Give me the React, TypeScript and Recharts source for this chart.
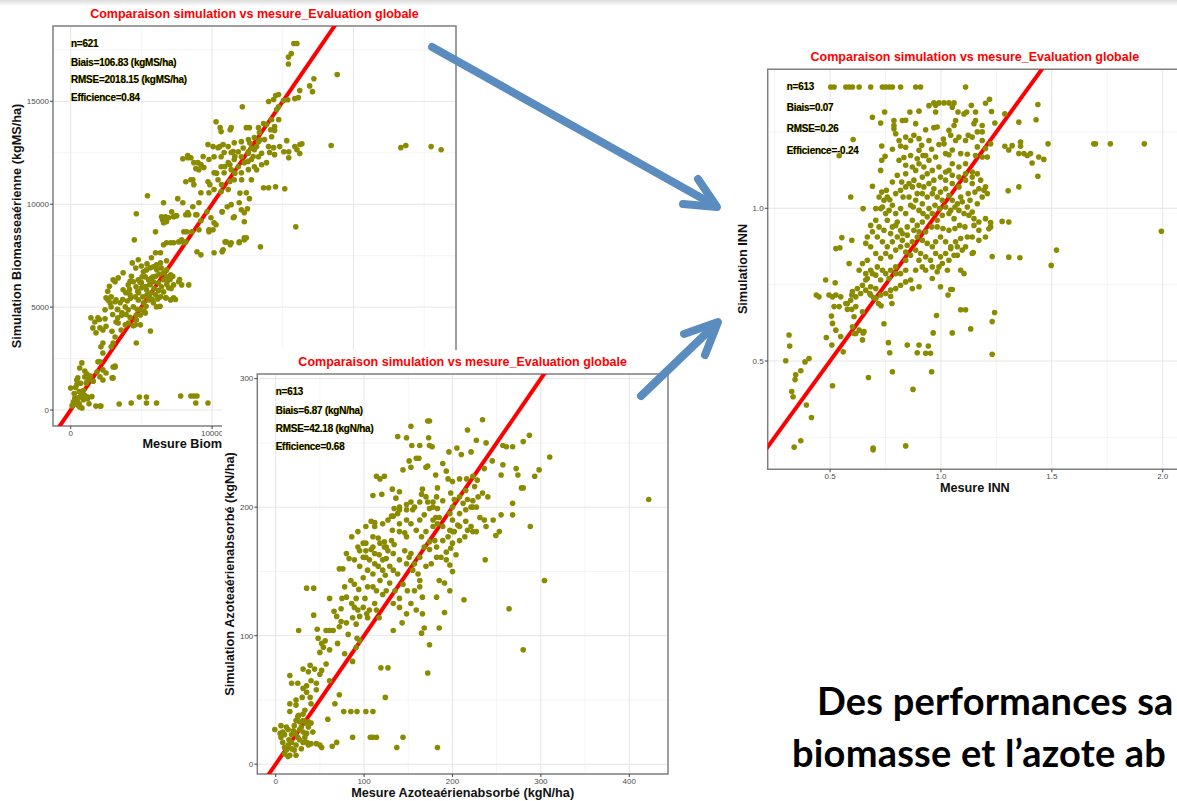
import { ScatterChart, Scatter, XAxis, YAxis, CartesianGrid, ReferenceLine, ReferenceArea } from "recharts"

type Pt = [number, number]

// Biomasse aérienne (kgMS/ha): [mesure, simulation]
const biomassePoints: Pt[] = [
  [0, 1070], [200, 400], [500, 250], [700, 150], [300, 600], [900, 500], [1000, 700], [600, 300], [1200, 550], [1500, 650],
  [1300, 300], [800, 100], [640, 2040], [500, 1560], [790, 2290], [430, 1460], [1000, 1610], [1140, 1360], [1210, 630], [860, 630],
  [290, 490], [140, 240], [640, 150], [1930, 2340], [2280, 1950], [1860, 1850], [3000, 2090], [2930, 1560], [3140, 2090],
  [100, 200], [350, 350], [450, 450], [550, 600], [750, 700], [250, 800], [600, 900], [900, 950], [1100, 1300], [1300, 1500],
  [1400, 1650], [1600, 1400], [1000, 1900], [450, 1250], [1150, 1750], [700, 1300], [350, 1100],
  [2070, 190], [1780, 190], [2140, 190], [3430, 290], [4280, 340], [4860, 630], [5360, 630], [5360, 340], [6070, 340],
  [7780, 680], [8500, 680], [8710, 680], [8930, 680], [8850, 340], [9710, 340],
  [4640, 9540], [4500, 8270], [4360, 7150], [4780, 7300], [3710, 6670], [3360, 6420], [3000, 6330], [3140, 6230],
  [2500, 5450], [2640, 5350], [2860, 5500], [3140, 5260], [2790, 5210], [2430, 4870], [2860, 5010], [3210, 5350],
  [1430, 4480], [1930, 4480], [1710, 4280], [2430, 4430], [1570, 3990], [2070, 3990], [1790, 3750], [2280, 3890],
  [2280, 3260], [2140, 3070], [2280, 2770], [3140, 3550], [3000, 3260], [2860, 3070], [2070, 2340],
  [2500, 1800], [2280, 1460], [3000, 1560], [3140, 2140], [2070, 1610], [4640, 3260], [5640, 3840],
  [3570, 3890], [3860, 4140], [3360, 4230], [3210, 4280], [4070, 4230], [4430, 4090], [4640, 4380], [4930, 4620], [5280, 4720],
  [3710, 5840], [4070, 6080], [4430, 6230], [4780, 6330], [5140, 6720], [5360, 6810], [5640, 6910], [5850, 6960], [6070, 7060],
  [6350, 7150], [5280, 6470], [5500, 6330], [5850, 6230], [6210, 6180], [6570, 6330], [6780, 6470], [7070, 6570], [5000, 5940],
  [5360, 5840], [5640, 5690], [6000, 5600], [6350, 5500], [6710, 5450], [7070, 5350], [7280, 5450], [4570, 5500], [4780, 5350],
  [5140, 5210], [4430, 5010], [4070, 4870], [3860, 5010], [3500, 5210], [5500, 5350], [5850, 5210], [6070, 5010], [6570, 5740],
  [6930, 5940], [7280, 6080], [7640, 6230], [7850, 6080], [8350, 6080], [6570, 6670], [6780, 6810], [5710, 7400], [6000, 7640],
  [6350, 7640], [6780, 7250], [4640, 4620], [4930, 4140], [4570, 4140],
  [5000, 6200], [5300, 6000], [5600, 6100], [5900, 5900], [6200, 5800], [4800, 5700], [5100, 5500], [5400, 5600], [5700, 6400],
  [6000, 6500], [6300, 6600], [4200, 5600], [4000, 5300], [3900, 5700], [4300, 6500], [4600, 6900], [5000, 7000], [5400, 7100],
  [6400, 6900], [6800, 6100], [7100, 5900], [4700, 4900], [5200, 4800], [3600, 4600], [3300, 4900], [4200, 4500],
  [4200, 6260], [4910, 6210], [5050, 6470], [4620, 5990], [5240, 5990], [5620, 6100], [5810, 6470], [6090, 6820], [6230, 6580],
  [5570, 5530], [5760, 5370], [6160, 5400], [6420, 5990], [6820, 6260], [4230, 5430], [3680, 5370], [3330, 4880], [3630, 4720],
  [2970, 4640], [4980, 4880], [5330, 5040], [6320, 5040], [6750, 5450], [7410, 5370], [7030, 6340], [7220, 6500], [7700, 6340],
  [2740, 6010], [2620, 5770], [2030, 4400], [2500, 4070], [2920, 3830], [3330, 4480], [3920, 4640], [4160, 5850], [4740, 5770],
  [6570, 8030], [6780, 8130], [7070, 8130], [7280, 8130], [7640, 8170], [7850, 8270], [8000, 8130], [8140, 8170], [6000, 8660],
  [8930, 7690], [9210, 7540], [10140, 7640], [10710, 7690], [11000, 8170], [11350, 8130], [11920, 8130], [12280, 8270], [12420, 8370],
  [6570, 9100], [6780, 9150], [6430, 9390], [6930, 9340], [7280, 9390], [7500, 9440], [8140, 9490], [8350, 9490], [8930, 9490],
  [8570, 8660], [8210, 8660], [8000, 8660], [9780, 8660], [10280, 9000], [9920, 9340], [9640, 9630], [10710, 9630], [11070, 9880],
  [11570, 9390], [12280, 9590], [12500, 9780], [5430, 10410], [6570, 10070], [7570, 10270], [7930, 10070], [7140, 9630],
  [6710, 9390], [6500, 9240], [6850, 9340], [7430, 9440], [8280, 9590],
  [8140, 11090], [8640, 11190], [8710, 10950], [9210, 10560], [9070, 10070], [8640, 9880], [8850, 9490],
  [7930, 12210], [8280, 12360], [8500, 12260], [9000, 12020], [9210, 11920], [9420, 11780], [9070, 11680], [8850, 11730],
  [9710, 12900], [10070, 12800], [10420, 12750], [10780, 12900], [11140, 12800], [11570, 12990], [12070, 13040], [12570, 13140],
  [12990, 13240], [13280, 13040], [13710, 13140], [13990, 12800], [14350, 12750], [14780, 12800], [15070, 12550], [14210, 13280],
  [14420, 13580], [13350, 13480], [12070, 12310], [11570, 12170], [11140, 12020], [10640, 11820], [10140, 11530], [9710, 11090],
  [10640, 12310], [10140, 12310], [10850, 12510], [11350, 12510], [11850, 12550], [12570, 12550], [12990, 12650], [13280, 12310],
  [12780, 12170], [12280, 12020], [11850, 11820], [11350, 11680], [10850, 11530], [10420, 11190], [12070, 11530], [12570, 11680],
  [12990, 11820], [13500, 11920], [12780, 11190], [11570, 11190], [11140, 10710], [10640, 10610], [10140, 10710], [9780, 10560],
  [12420, 10560], [12640, 10270], [11920, 10070], [11350, 9980], [10710, 9630], [12070, 9730], [12280, 9150], [11500, 9340],
  [10140, 9100], [10070, 8760], [9070, 8760], [9210, 9200], [9780, 8760], [13850, 12020], [14070, 12510], [14420, 12410],
  [13850, 13870], [14420, 13770], [14710, 14110], [14210, 14110], [10640, 13530], [8280, 12260], [8710, 12020], [9210, 11920],
  [9780, 12170], [8500, 11190],
  [11610, 12320], [11260, 11920], [12550, 12480], [12910, 12320], [12550, 12080], [10900, 11830], [10320, 11510], [11610, 11510],
  [12090, 11190], [11260, 11110], [10670, 10950], [9840, 10950], [10550, 12800], [11490, 12560], [12670, 12970], [12200, 12730],
  [12790, 12730], [13380, 13130], [13150, 12800], [13500, 12480], [11970, 10540], [13150, 11670], [9370, 12320],
  [15780, 17810], [16000, 17810], [15600, 17320], [15400, 17150], [15400, 16810], [18850, 16300], [17200, 16100], [16900, 15750],
  [17100, 15470], [16200, 15520], [16100, 15180], [15850, 15130], [15350, 15080], [15050, 15040], [14700, 15330], [14500, 15280],
  [14000, 14990], [14350, 15090], [14700, 14740], [14570, 14600], [12140, 14740], [10280, 14010], [10570, 13720], [11350, 13720],
  [11280, 13620], [12420, 13720], [12640, 13720], [13280, 13720], [13640, 13920], [14140, 13620],
  [15280, 13090], [15850, 12800], [16210, 12900], [16350, 12940], [16000, 12650], [15420, 12550], [15420, 12260], [16200, 12460],
  [18420, 12850], [23350, 12750], [23700, 12850], [25490, 12800], [26200, 12650], [15920, 8900], [15140, 10750], [14490, 10850],
  [14000, 10800], [13640, 10800], [13420, 7930], [12280, 8370], [11920, 8170], [11280, 8030], [10920, 8170], [10780, 7790],
]

// Azote aérien absorbé (kgN/ha): [mesure, simulation]
const azotePoints: Pt[] = [
  [234, 268], [172, 267], [174, 267], [153, 263], [138, 255], [148, 254], [173, 254], [154, 248], [163, 248], [174, 248],
  [177, 247], [227, 252], [238, 250], [217, 260], [205, 246], [196, 243], [189, 234], [210, 241], [221, 243], [159, 238],
  [162, 238], [151, 236], [153, 231], [144, 229], [172, 232], [170, 231], [181, 225], [195, 222], [208, 222], [216, 222],
  [223, 224], [228, 221], [236, 230], [245, 236], [257, 248], [261, 247], [268, 247], [280, 251], [287, 256], [293, 224],
  [298, 229], [310, 239], [272, 230], [274, 225], [278, 215], [280, 215], [268, 203], [268, 194], [288, 185], [304, 143],
  [264, 121], [280, 89], [237, 159], [249, 178], [253, 181], [238, 185], [246, 190], [255, 194], [257, 233], [255, 225], [422, 206],
  [213, 128], [191, 118], [182, 130], [185, 106], [183, 13], [172, 71], [174, 93], [165, 102], [168, 106], [143, 110],
  [133, 104], [127, 75], [119, 75], [124, 52], [137, 13], [144, 21], [110, 21], [114, 21], [107, 21], [87, 21],
  [77, 41], [85, 41], [92, 41], [102, 41], [110, 41], [52, 13], [64, 14], [69, 17], [59, 35], [67, 47], [72, 54],
  [-1, 27], [6, 21], [8, 17], [10, 13], [12, 11], [14, 15], [15, 19], [18, 23], [20, 26], [21, 30], [23, 34], [25, 37],
  [27, 33], [29, 29], [31, 25], [33, 21], [35, 17], [37, 15], [38, 16], [27, 19], [23, 15], [18, 12], [10, 8], [14, 6],
  [21, 11], [29, 12], [31, 34], [26, 38], [35, 32], [40, 32], [42, 25], [40, 16], [50, 15], [46, 16], [8, 25], [12, 29],
  [6, 30], [16, 7], [23, 7], [5, 24], [31, 39], [33, 42], [37, 33], [16, 41], [23, 46], [16, 47], [23, 50], [30, 52],
  [39, 52], [31, 59], [35, 61], [40, 65], [46, 63], [50, 70], [44, 74], [37, 72], [39, 77], [31, 74], [16, 69], [18, 63],
  [25, 63], [35, 56], [26, 104],
  [14, 27], [10, 23], [18, 17], [25, 21], [31, 17], [22, 24], [27, 27], [35, 24], [37, 29], [33, 33],
  [35, 137], [43, 137], [43, 116], [47, 105], [48, 98], [52, 94], [50, 87], [54, 91], [56, 96], [61, 104], [65, 104], [57, 104],
  [61, 129], [75, 129], [66, 119], [69, 115], [74, 121], [74, 111], [78, 138], [80, 164], [83, 160], [72, 152], [76, 152],
  [82, 101], [78, 86], [87, 80], [91, 91], [95, 96], [91, 109], [87, 114], [92, 98], [85, 143], [89, 140], [94, 136],
  [91, 129], [89, 122], [93, 120], [99, 172], [102, 166], [95, 166], [93, 169], [102, 185], [108, 189], [102, 161], [106, 159],
  [99, 145], [104, 138], [110, 138], [114, 135], [101, 129], [103, 117], [104, 114], [110, 177], [116, 176], [112, 164],
  [117, 163], [121, 159], [116, 154], [121, 151], [124, 147], [110, 148], [114, 120], [117, 114], [121, 132], [123, 169],
  [127, 166], [131, 174], [134, 171], [131, 193], [134, 199], [140, 200], [138, 195], [140, 181], [146, 180], [148, 177],
  [132, 182], [125, 160], [133, 151], [138, 148], [129, 141], [135, 135], [140, 129], [144, 140], [149, 135], [146, 166],
  [151, 161], [157, 156], [155, 151], [161, 148], [163, 143], [157, 135], [163, 138], [166, 130], [170, 154], [176, 156],
  [182, 161], [168, 169], [174, 173], [180, 174], [170, 181], [178, 185], [183, 187], [163, 190], [168, 194], [174, 199],
  [155, 198], [148, 202], [153, 204], [165, 210], [170, 208], [178, 204], [183, 199], [166, 214], [136, 207], [140, 212],
  [132, 214], [123, 173], [110, 209], [112, 188], [120, 210],
  [189, 174], [195, 177], [200, 181], [206, 186], [193, 165], [198, 168], [204, 163], [197, 155], [200, 150], [185, 143],
  [191, 141], [197, 135], [202, 181], [208, 185], [215, 189], [221, 185], [227, 181], [212, 203], [217, 206], [223, 200],
  [229, 208], [200, 200], [197, 195], [215, 213], [225, 216], [234, 211], [240, 208], [231, 192], [236, 190], [223, 181],
  [200, 190], [185, 192], [181, 192], [178, 190], [208, 208], [198, 211], [202, 206], [200, 220], [183, 215], [193, 228],
  [114, 224], [118, 222], [123, 224], [110, 169], [129, 154],
  [86, 177], [93, 181], [89, 159], [95, 154], [104, 151], [112, 156], [118, 143], [125, 135], [133, 125], [140, 122],
  [148, 117], [153, 125], [159, 120], [166, 117], [140, 159], [148, 156], [153, 164], [163, 161], [133, 164], [125, 169],
  [118, 172], [112, 185], [121, 187], [127, 190], [148, 190], [153, 187], [159, 182], [165, 177], [174, 167], [182, 169],
  [187, 161], [193, 159], [200, 172], [208, 174], [214, 177], [217, 182], [197, 182], [189, 185], [208, 195], [215, 198],
  [221, 200], [227, 200], [223, 205], [189, 205], [182, 208], [178, 200], [172, 204], [163, 204], [157, 200], [148, 198],
  [140, 198], [133, 193], [140, 187], [108, 167], [102, 172], [99, 161], [80, 130], [86, 125], [99, 122], [106, 120],
  [112, 125], [95, 115], [80, 110], [72, 107], [70, 94], [61, 89], [57, 78], [52, 73], [61, 65], [46, 58], [40, 47],
]

// INN: [mesure, simulation]
const innPoints: Pt[] = [
  [0.503, 1.397], [0.518, 1.397], [0.571, 1.397], [0.586, 1.397], [0.601, 1.397], [0.631, 1.397], [0.683, 1.397], [0.736, 1.397],
  [0.751, 1.397], [0.766, 1.397], [0.781, 1.397], [0.818, 1.397], [0.886, 1.397], [0.908, 1.397], [1.111, 1.397],
  [0.968, 1.345], [0.991, 1.345], [1.014, 1.345], [1.036, 1.345], [1.059, 1.345], [0.946, 1.336], [0.691, 1.298], [0.746, 1.315],
  [0.728, 1.279], [0.788, 1.287], [0.788, 1.271], [0.788, 1.26], [0.796, 1.244], [0.826, 1.287], [0.86, 1.315], [0.901, 1.318],
  [0.976, 1.315], [1.077, 1.315], [1.116, 1.315], [1.156, 1.315], [1.137, 1.337], [1.201, 1.344], [1.219, 1.357], [1.228, 1.317],
  [1.288, 1.309], [1.351, 1.282], [1.429, 1.29], [1.437, 1.34], [1.243, 1.279], [1.156, 1.287], [1.066, 1.287], [1.059, 1.271],
  [0.841, 1.233], [0.878, 1.239], [0.811, 1.222], [0.931, 1.257], [0.968, 1.264], [1.011, 1.227], [1.044, 1.239], [1.081, 1.233],
  [1.123, 1.239], [1.164, 1.25], [1.186, 1.25], [0.604, 1.225], [0.733, 1.204], [0.781, 1.193], [0.818, 1.204], [0.748, 1.17],
  [0.833, 1.166], [0.863, 1.173], [0.913, 1.206], [0.958, 1.193], [0.991, 1.209], [1.036, 1.175], [1.051, 1.191], [1.119, 1.177],
  [1.164, 1.201], [1.201, 1.196], [1.209, 1.168], [1.224, 1.211], [1.288, 1.203], [1.306, 1.191], [1.321, 1.205], [1.359, 1.217],
  [1.359, 1.203], [1.351, 1.179], [1.374, 1.179], [1.389, 1.173], [1.404, 1.179], [1.441, 1.168], [1.464, 1.16], [1.483, 1.211],
  [1.411, 1.148], [1.437, 1.105], [1.689, 1.211], [1.697, 1.211], [1.764, 1.211], [1.917, 1.211], [1.351, 1.07], [1.303, 1.057],
  [0.541, 1.172], [0.593, 1.037], [0.649, 0.999], [0.733, 1.157], [0.728, 1.124], [0.691, 1.072],
  [0.983, 1.266], [1.036, 1.255], [1.066, 1.222], [1.111, 1.222], [1.141, 1.233], [1.186, 1.222], [1.014, 1.211], [0.946, 1.222],
  [0.901, 1.228], [0.863, 1.222], [0.841, 1.2], [0.901, 1.19], [0.931, 1.173], [1.021, 1.179], [1.089, 1.179], [1.156, 1.173],
  [1.186, 1.168], [0.841, 1.288], [0.886, 1.277], [0.976, 1.337], [1.051, 1.331], [1.104, 1.309], [1.149, 1.277], [1.186, 1.271],
  [0.721, 1.037], [0.743, 1.026], [0.758, 1.037], [0.736, 1.004], [0.766, 0.993], [0.781, 1.01], [0.796, 0.983], [0.818, 0.999],
  [0.841, 0.983], [0.863, 1.01], [0.886, 1.026], [0.916, 1.015], [0.938, 1.037], [0.961, 1.048], [0.983, 1.037], [1.006, 1.026],
  [1.036, 1.042], [1.051, 1.026], [1.074, 1.015], [1.096, 1.021], [1.119, 1.004], [1.141, 0.988], [1.164, 1.015], [1.186, 1.037],
  [1.209, 1.048], [1.194, 1.059], [1.171, 1.064], [1.141, 1.081], [1.111, 1.092], [1.081, 1.07], [1.051, 1.081], [1.021, 1.092],
  [0.998, 1.102], [0.968, 1.092], [0.946, 1.081], [0.923, 1.07], [0.901, 1.075], [0.871, 1.07], [0.841, 1.07], [0.818, 1.059],
  [0.796, 1.048], [0.781, 1.086], [0.803, 1.108], [0.841, 1.113], [0.886, 1.124], [0.916, 1.102], [0.938, 1.113], [0.961, 1.124],
  [0.991, 1.135], [1.021, 1.119], [1.051, 1.108], [1.081, 1.102], [1.111, 1.113], [1.141, 1.119], [1.164, 1.113], [0.901, 1.146],
  [0.871, 1.135], [0.841, 1.141], [0.811, 1.157], [0.946, 1.157], [0.976, 1.168], [0.751, 0.983], [0.728, 0.999], [0.706, 0.999],
  [0.758, 0.961], [0.781, 0.939], [0.803, 0.955], [0.826, 0.917], [0.848, 0.939], [0.871, 0.961], [0.893, 0.944], [0.916, 0.955],
  [0.938, 0.972], [0.961, 0.983], [0.983, 0.961], [1.006, 0.977], [1.036, 0.983], [1.059, 0.966], [1.081, 0.993], [1.104, 0.983],
  [1.126, 0.977], [1.149, 0.966], [1.171, 0.955], [1.201, 0.966], [1.119, 0.906], [1.089, 0.901], [1.066, 0.89], [1.044, 0.874],
  [1.021, 0.89], [0.998, 0.906], [0.976, 0.89], [0.961, 0.874], [0.938, 0.885], [0.916, 0.895], [0.893, 0.906], [0.871, 0.89],
  [0.848, 0.879], [0.826, 0.895], [0.803, 0.906], [0.781, 0.89], [0.758, 0.874], [0.736, 0.89], [0.713, 0.906], [0.691, 0.923],
  [0.668, 0.906], [0.661, 0.885], [0.683, 0.874], [0.706, 0.852], [0.728, 0.836], [0.751, 0.852], [0.773, 0.841], [0.796, 0.863],
  [0.818, 0.874], [0.841, 0.857], [0.863, 0.846], [0.886, 0.863], [0.908, 0.852], [0.931, 0.841], [0.953, 0.83], [0.976, 0.852],
  [0.998, 0.841], [1.021, 0.852], [1.044, 0.868], [1.074, 0.874], [1.096, 0.863], [1.141, 0.852], [1.171, 0.895], [1.201, 0.906],
  [1.224, 0.939], [0.668, 0.83], [0.646, 0.819], [0.631, 0.797], [0.661, 0.786], [0.683, 0.797], [0.706, 0.781], [0.728, 0.765],
  [0.751, 0.786], [0.773, 0.797], [0.796, 0.808], [0.818, 0.786], [0.841, 0.797], [0.863, 0.765], [0.886, 0.797], [0.901, 0.743],
  [0.871, 0.737], [0.841, 0.759], [0.818, 0.748], [0.796, 0.737], [0.773, 0.732], [0.751, 0.721], [0.728, 0.716], [0.706, 0.737],
  [0.683, 0.743], [0.661, 0.732], [0.616, 0.71], [0.593, 0.699], [0.571, 0.688], [0.548, 0.71], [0.526, 0.716], [0.983, 0.792],
  [1.006, 0.819], [1.029, 0.797], [0.931, 0.797], [0.961, 0.77], [1.074, 0.846], [1.089, 0.797], [1.104, 0.786],
  [0.733, 1.053], [0.754, 1.059], [0.769, 1.028], [0.829, 1.037], [0.856, 1.037], [0.875, 1.004], [0.901, 0.993], [0.919, 0.983],
  [0.946, 0.999], [0.973, 1.01], [0.994, 0.999], [1.021, 1.004], [1.044, 0.993], [1.063, 1.004], [1.089, 1.037], [1.123, 1.048],
  [1.153, 1.053], [1.131, 1.026], [0.958, 0.939], [0.983, 0.939], [1.009, 0.934], [1.036, 0.928], [1.063, 0.934], [1.084, 0.944],
  [1.108, 0.939], [0.931, 0.923], [0.901, 0.923], [0.878, 0.928], [0.848, 0.912], [0.818, 0.928], [0.796, 0.944], [0.773, 0.917],
  [0.743, 0.928], [0.721, 0.939], [0.706, 0.961], [0.683, 0.944], [0.878, 1.092], [0.856, 1.081], [0.823, 1.086], [0.923, 1.135],
  [0.893, 1.162], [0.919, 1.173], [1.051, 1.146], [1.081, 1.135], [1.111, 1.146], [1.036, 1.124], [1.141, 1.102], [1.179, 1.092],
  [1.201, 1.07], [1.021, 1.064], [0.998, 1.053], [0.968, 1.064], [0.916, 1.048], [0.893, 1.048], [1.149, 0.944], [1.171, 0.928],
  [1.141, 0.906], [1.111, 0.874], [1.059, 0.846], [1.036, 0.83], [0.991, 0.808], [0.961, 0.808], [0.916, 0.808], [0.901, 0.83],
  [0.841, 0.83], [0.796, 0.786], [0.766, 0.77], [0.736, 0.797], [0.713, 0.808], [0.691, 0.786], [0.668, 0.77], [0.683, 0.716],
  [0.706, 0.705], [0.646, 0.748], [0.623, 0.737], [0.601, 0.727], [0.578, 0.688],
  [0.526, 0.601], [0.548, 0.58], [0.511, 0.623], [0.598, 0.669], [0.608, 0.645], [0.616, 0.59], [0.631, 0.601], [0.646, 0.569],
  [0.653, 0.596], [0.601, 0.612],
  [0.315, 0.585], [0.318, 0.549], [0.3, 0.501], [0.345, 0.455], [0.342, 0.439], [0.368, 0.468], [0.387, 0.497], [0.405, 0.508],
  [0.327, 0.4], [0.333, 0.383], [0.393, 0.356], [0.416, 0.315], [0.338, 0.218], [0.368, 0.239], [0.694, 0.209], [0.694, 0.215],
  [0.841, 0.222], [0.874, 0.407], [0.781, 0.465], [0.673, 0.446], [0.511, 0.419], [0.508, 0.552], [0.483, 0.577], [0.559, 0.53],
  [0.608, 0.59], [0.649, 0.592], [0.743, 0.622], [0.763, 0.56], [0.769, 0.527], [0.848, 0.552], [0.893, 0.527], [0.901, 0.552],
  [0.931, 0.525], [0.943, 0.549], [0.953, 0.525], [0.958, 0.465], [0.965, 0.592], [0.98, 0.649], [1.051, 0.592], [1.134, 0.605],
  [1.231, 0.522], [1.231, 0.629], [1.242, 0.659], [1.089, 0.668], [1.111, 0.668], [1.032, 0.716], [1.051, 0.734], [1.044, 0.734],
  [0.998, 0.743], [1.231, 0.842], [1.306, 0.84], [1.356, 0.838], [1.146, 0.855], [1.497, 0.813], [1.521, 0.863], [1.994, 0.925],
  [1.276, 0.957], [1.306, 0.955], [1.216, 0.933], [1.224, 0.953], [0.495, 0.716], [0.511, 0.71], [0.48, 0.765], [0.438, 0.716],
  [0.45, 0.71], [0.518, 0.678], [0.541, 0.678], [0.523, 0.756], [0.553, 0.904], [0.526, 0.868], [0.544, 0.871], [0.598, 0.895],
  [0.586, 0.819], [0.578, 0.669], [0.616, 0.678], [0.506, 0.647], [0.646, 0.661], [0.679, 0.721], [0.695, 0.708], [0.718, 0.688],
  [0.779, 0.688], [0.773, 0.712], [0.73, 0.681], [0.661, 0.765], [0.638, 0.721], [0.598, 0.716],
]

const biomasseStats = ["n=621", "Biais=106.83 (kgMS/ha)", "RMSE=2018.15 (kgMS/ha)", "Efficience=0.84"]
const azoteStats = ["n=613", "Biais=6.87 (kgN/ha)", "RMSE=42.18 (kgN/ha)", "Efficience=0.68"]
const innStats = ["n=613", "Biais=0.07", "RMSE=0.26", "Efficience=-0.24"]

// the 20000 label sits under the nitrogen panel, so only its grid line is drawn
const biomasseXTicks = [0, 10000]
const biomasseXGrid = [0, 10000, 20000]
const biomasseYTicks = [0, 5000, 10000, 15000]
const biomasseXMinor = [5000, 15000, 25000]
const biomasseYMinor = [2500, 7500, 12500, 17500]
const azoteXTicks = [0, 100, 200, 300, 400]
const azoteYTicks = [0, 100, 200, 300]
const azoteXMinor = [50, 150, 250, 350]
const azoteYMinor = [50, 150, 250]
const innXTicks = [0.5, 1.0, 1.5, 2.0]
const innYTicks = [0.5, 1.0]
const innXMinor = [0.25, 0.75, 1.25, 1.75]
const innYMinor = [0.25, 0.75, 1.25]

const TITLE = "Comparaison simulation vs mesure_Evaluation globale"
const POINT = "#8b8b00"
const FONT = "'Liberation Sans', Arial, sans-serif"

interface PanelProps {
  left: number
  top: number
  width: number
  height: number
  margin: { top: number; right: number; bottom: number; left: number }
  yAxisWidth: number
  xAxisHeight: number
  xDomain: [number, number]
  yDomain: [number, number]
  xTicks: number[]
  xGrid?: number[]
  yTicks: number[]
  xMinor: number[]
  yMinor: number[]
  points: Pt[]
  stats: string[]
  statsX: number
  statsY: number[]
  titleY: number
  xLabel: string
  yLabel: string
  xLabelY: number
  xLabelClip?: number
  yLabelX: number
  decimals?: number
  background?: boolean
}

const Dot = (props: any) => <circle cx={props.cx} cy={props.cy} r={2.8} fill={POINT} />

function Panel(p: PanelProps) {
  const data = p.points.map(([x, y]) => ({ x, y }))
  const plotLeft = p.margin.left + p.yAxisWidth
  const plotRight = p.width - p.margin.right
  const plotTop = p.margin.top
  const plotBottom = p.height - p.margin.bottom - p.xAxisHeight
  const cx = (plotLeft + plotRight) / 2
  const cy = (plotTop + plotBottom) / 2
  const fmt = (v: number) => (p.decimals ? v.toFixed(p.decimals) : String(v))
  const lo = Math.min(p.xDomain[0], p.yDomain[0])
  const hi = Math.max(p.xDomain[1], p.yDomain[1])
  const tickStyle = { fontSize: 8, fill: "#4d4d4d", fontFamily: FONT }
  const labelStyle = {
    whiteSpace: "nowrap" as const,
    color: "#111",
    fontWeight: 700,
    fontSize: 12.7,
    fontFamily: FONT,
  }

  return (
    <div
      style={{
        position: "absolute",
        left: p.left,
        top: p.top,
        width: p.width,
        height: p.height,
        background: p.background ? "#fff" : "transparent",
      }}
    >
      <ScatterChart width={p.width} height={p.height} margin={p.margin}>
        <CartesianGrid stroke="#f3f3f3" strokeWidth={0.8} verticalValues={p.xMinor} horizontalValues={p.yMinor} />
        <CartesianGrid
          stroke="#e6e6e6"
          strokeWidth={1}
          verticalValues={p.xGrid ?? p.xTicks}
          horizontalValues={p.yTicks}
        />
        <XAxis
          type="number"
          dataKey="x"
          domain={p.xDomain}
          allowDataOverflow
          ticks={p.xTicks}
          tickFormatter={fmt}
          height={p.xAxisHeight}
          axisLine={false}
          tickLine={{ stroke: "#444" }}
          tickSize={3}
          tickMargin={1}
          tick={tickStyle}
          interval={0}
        />
        <YAxis
          type="number"
          dataKey="y"
          domain={p.yDomain}
          allowDataOverflow
          ticks={p.yTicks}
          tickFormatter={fmt}
          width={p.yAxisWidth}
          axisLine={false}
          tickLine={{ stroke: "#444" }}
          tickSize={3}
          tickMargin={1}
          tick={tickStyle}
          interval={0}
        />
        <Scatter data={data} shape={Dot} isAnimationActive={false} />
        <ReferenceLine
          segment={[{ x: lo, y: lo }, { x: hi, y: hi }]}
          stroke="#ff0000"
          strokeWidth={4}
          ifOverflow="hidden"
        />
        <ReferenceArea
          x1={p.xDomain[0]}
          x2={p.xDomain[1]}
          y1={p.yDomain[0]}
          y2={p.yDomain[1]}
          fill="none"
          fillOpacity={0}
          stroke="#7f7f7f"
          strokeWidth={1.5}
          ifOverflow="visible"
        />
      </ScatterChart>

      <div
        style={{
          position: "absolute",
          left: cx,
          top: p.titleY,
          transform: "translate(-50%, -50%)",
          whiteSpace: "nowrap",
          color: "#ff0000",
          fontWeight: 700,
          fontSize: 12.5,
          fontFamily: FONT,
        }}
      >
        {TITLE}
      </div>

      <div
        style={{
          ...labelStyle,
          position: "absolute",
          left: p.yLabelX,
          top: cy,
          transform: "translate(-50%, -50%) rotate(-90deg)",
        }}
      >
        {p.yLabel}
      </div>

      {p.xLabelClip ? (
        <div
          style={{
            position: "absolute",
            left: 0,
            top: p.xLabelY - 9,
            width: p.xLabelClip,
            height: 18,
            overflow: "hidden",
          }}
        >
          <div style={{ ...labelStyle, position: "absolute", left: cx, top: 9, transform: "translate(-50%, -50%)" }}>
            {p.xLabel}
          </div>
        </div>
      ) : (
        <div
          style={{
            ...labelStyle,
            position: "absolute",
            left: cx,
            top: p.xLabelY,
            transform: "translate(-50%, -50%)",
          }}
        >
          {p.xLabel}
        </div>
      )}

      {p.stats.map((s, i) => (
        <div
          key={s}
          style={{
            position: "absolute",
            left: p.statsX,
            top: p.statsY[i] - 6,
            height: 12,
            lineHeight: "12px",
            whiteSpace: "nowrap",
            color: "#000",
            fontWeight: 700,
            fontSize: 10,
            letterSpacing: -0.25,
            fontFamily: FONT,
            textShadow: "-0.5px 0 0 #c9c900",
          }}
        >
          {s}
        </div>
      ))}
    </div>
  )
}

const slideText = {
  position: "absolute" as const,
  whiteSpace: "nowrap" as const,
  fontFamily: "Lato, 'Open Sans', sans-serif",
  fontWeight: 700,
  fontSize: 38,
  letterSpacing: 0.2,
  lineHeight: "52px",
  color: "#000",
}

export default function App() {
  return (
    <div
      style={{
        position: "fixed",
        left: 0,
        top: 0,
        width: 1177,
        height: 801,
        overflow: "hidden",
        background: "#fff",
        fontFamily: FONT,
      }}
    >
      <div
        style={{
          position: "absolute",
          left: 0,
          top: 0,
          width: 1177,
          height: 6,
          background: "linear-gradient(#dcdcdc, #ffffff)",
        }}
      />

      <Panel
        left={0}
        top={0}
        width={470}
        height={460}
        margin={{ top: 26, right: 14, bottom: 14, left: 0 }}
        yAxisWidth={53}
        xAxisHeight={20}
        xDomain={[-1250, 27250]}
        yDomain={[-776, 18660]}
        xTicks={biomasseXTicks}
        xGrid={biomasseXGrid}
        yTicks={biomasseYTicks}
        xMinor={biomasseXMinor}
        yMinor={biomasseYMinor}
        points={biomassePoints}
        stats={biomasseStats}
        statsX={71}
        statsY={[43.5, 62.7, 80.3, 98.3]}
        titleY={14}
        xLabel="Mesure Biomasseaérienne (kgMS/ha)"
        yLabel="Simulation Biomasseaérienne (kgMS/ha)"
        xLabelY={444}
        xLabelClip={222}
        yLabelX={17}
      />

      <Panel
        left={720}
        top={40}
        width={470}
        height={460}
        margin={{ top: 29.3, right: 8, bottom: 10.7, left: 0 }}
        yAxisWidth={47.7}
        xAxisHeight={20}
        xDomain={[0.2187, 2.087]}
        yDomain={[0.1454, 1.455]}
        xTicks={innXTicks}
        yTicks={innYTicks}
        xMinor={innXMinor}
        yMinor={innYMinor}
        points={innPoints}
        stats={innStats}
        statsX={66.7}
        statsY={[46.7, 68.3, 89.3, 110.7]}
        titleY={16.7}
        xLabel="Mesure INN"
        yLabel="Simulation INN"
        xLabelY={448}
        yLabelX={23}
        decimals={1}
      />

      <Panel
        left={222}
        top={350}
        width={450}
        height={451}
        margin={{ top: 24, right: 4, bottom: 11, left: 0 }}
        yAxisWidth={35.3}
        xAxisHeight={16}
        xDomain={[-20.8, 443.8]}
        yDomain={[-7.6, 303.6]}
        xTicks={azoteXTicks}
        yTicks={azoteYTicks}
        xMinor={azoteXMinor}
        yMinor={azoteYMinor}
        points={azotePoints}
        stats={azoteStats}
        statsX={53.7}
        statsY={[41.7, 60.7, 79.3, 97.3]}
        titleY={11.7}
        xLabel="Mesure Azoteaérienabsorbé (kgN/ha)"
        yLabel="Simulation Azoteaérienabsorbé (kgN/ha)"
        xLabelY={443}
        yLabelX={8}
        background
      />

      <svg
        width={1177}
        height={801}
        style={{ position: "absolute", left: 0, top: 0, pointerEvents: "none" }}
      >
        <g stroke="#5a8cbf" strokeWidth={8} strokeLinecap="round" strokeLinejoin="round" fill="none">
          <line x1={432} y1={47} x2={714} y2={205} />
          <polyline points="683,204 717,207 698,179" />
          <line x1={641} y1={396} x2={715} y2={325} />
          <polyline points="684,334 718,322 705,355" />
        </g>
      </svg>

      <div style={{ ...slideText, left: 817, top: 674 }}>Des performances sa</div>
      <div style={{ ...slideText, left: 792, top: 726 }}>biomasse et l’azote ab</div>
    </div>
  )
}
